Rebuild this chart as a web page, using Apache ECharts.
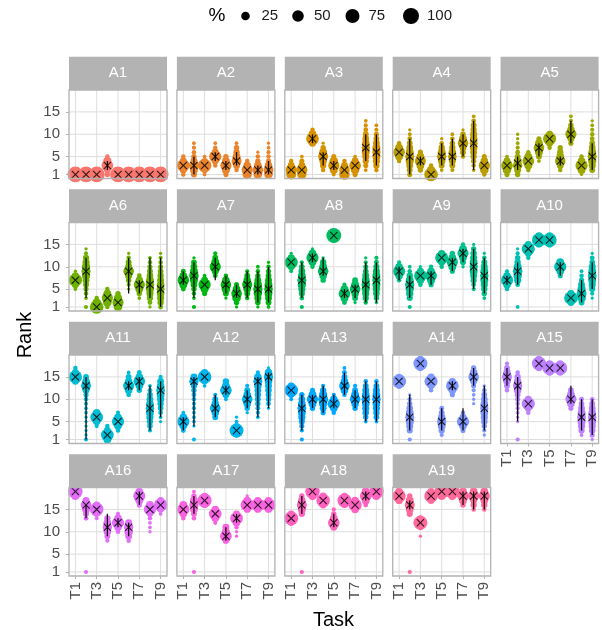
<!DOCTYPE html>
<html><head><meta charset="utf-8">
<script src="https://cdn.jsdelivr.net/npm/echarts@6/dist/echarts.min.js"></script>
<style>html,body{margin:0;padding:0;background:#fff}#c{width:602px;height:630px}</style>
</head><body><div id="c"></div>
<script>
// ---------- data ----------
const tasks = ['T1','T2','T3','T4','T5','T6','T7','T8','T9'];
const agents = ['A1','A2','A3','A4','A5','A6','A7','A8','A9','A10','A11','A12','A13','A14','A15','A16','A17','A18','A19'];
const yTicks = [1,5,10,15];
const xTicks = [1,3,5,7,9];
const legendValues = [25,50,75,100];

// median rank (X marker) per agent per task
const median = [
  [1,1,1,3,1,1,1,1,1],
  [3,3,3,5,3,4,2,2,2],
  [2,2,9,5,3,2,3,7,6],
  [6,5,4,1,5,5,8,8,3],
  [3,3.5,4,7,9,4,10,3,5],
  [7,9,1,3,2,9,6,6,5],
  [7,8,6,10,6,4,6,5,5],
  [11,7,12,9,17,4,5,6,7],
  [9,6,8,8,12,11,13,10,8],
  [7,9,14,16,16,10,3,4,8],
  [15,13,6,2,5,13,14,8,12],
  [5,14,15,8,12,3,10,14,15],
  [12,8,10,10,9,13,10,10,10],
  [14,6,18,14,5,13,5,15,8],
  [15,13,9,18,17,17,10,6,6],
  [19,16,15,11,12,11,18,15,16],
  [15,16,17,14,9,13,16,16,16],
  [13,16,19,17,12,17,16,18,19],
  [18,16,12,18,19,19,18,18,18]
];
// black interval line (low / high), null = none
const barLow = [
  [null,null,null,2,null,null,null,null,null],
  [null,1,null,4,2,3,null,1,1],
  [null,null,8,3,2,null,null,4,3],
  [null,1,3,null,3,3,5,2,null],
  [null,2,null,5,null,3,8,null,2],
  [null,3,null,null,null,4,4,3,1],
  [6,3,null,7,4,3,3,2,2],
  [null,3,11,8,null,3,3,2,2],
  [7,3,null,6,null,9,11,5,4],
  [6,6,null,null,null,8,null,2,5],
  [null,1,null,null,null,12,12,3,6],
  [3,4,null,6,11,null,8,6,8],
  [null,3,8,7,8,11,8,5,5],
  [null,3,null,null,3,12,3,13,3],
  [13,5,null,null,null,null,9,3,2],
  [null,13,null,9,11,9,16,null,null],
  [null,14,null,null,8,12,null,null,null],
  [null,14,null,null,11,null,null,17,null],
  [null,15,null,null,null,null,16,15,15]
];
const barHigh = [
  [null,null,null,4,null,null,null,null,null],
  [null,5,null,6,4,6,null,3,4],
  [null,null,10,6,4,null,null,10,10],
  [null,9,5,null,8,9,10,13,null],
  [null,5,null,8,null,5,13,null,8],
  [null,12,null,null,null,12,7,12,12],
  [9,11,null,12,8,6,9,9,10],
  [null,11,13,12,null,5,6,11,11],
  [10,8,null,9,null,12,14,14,12],
  [8,11,null,null,null,11,null,7,11],
  [null,15,null,null,null,14,15,13,14],
  [6,15,null,11,13,null,12,15,16],
  [null,11,11,13,11,16,12,14,14],
  [null,11,null,null,8,14,8,17,13],
  [17,15,null,null,null,null,13,10,10],
  [null,16,null,14,13,12,19,null,null],
  [null,18,null,null,11,14,null,null,null],
  [null,18,null,null,14,null,null,19,null],
  [null,17,null,null,null,null,19,19,19]
];
// rank distribution: per task "rank:percent ..." separated by |
const dist = [
  '1:97 2:3|1:97 2:3|1:97 2:3|3:50 4:22 2:12 1:8 5:5|1:97 2:3|1:97 2:3|1:97 2:3|1:97 2:3|1:97 2:3',
  '3:60 2:15 4:15 5:5 1:5|3:35 2:20 4:15 1:10 5:8 6:5 7:4 8:3|3:70 2:12 4:12 1:3 5:3|5:55 6:15 4:15 7:5 3:5 8:3|3:45 4:20 2:20 5:8 1:7|4:35 5:20 3:15 6:12 7:8 2:5 8:3|2:45 1:30 3:20 4:5|2:40 1:25 3:20 4:8 5:5 6:2|2:35 1:25 3:18 4:8 5:5 6:4 7:3 8:2',
  '2:45 1:35 3:15 4:5|2:45 1:30 3:15 4:7 5:3|9:60 10:20 8:15 11:5|5:35 6:20 4:18 3:12 7:8 2:5 8:2|3:45 4:25 2:20 5:7 1:3|2:40 1:40 3:15 4:5|3:50 2:25 4:15 1:7 5:3|7:22 6:20 8:18 5:16 9:14 4:12 10:10 3:7 11:6 12:4 2:3 13:3|6:22 5:20 7:20 4:16 8:14 3:12 9:10 10:7 2:5 11:4 12:3',
  '6:50 5:20 7:20 4:5 8:5|5:28 4:22 6:20 3:15 7:14 2:10 8:9 1:7 9:6 10:3 11:2|4:45 3:20 5:20 2:8 6:7|1:70 2:25 3:5|5:30 6:20 4:18 7:12 3:10 8:5 2:3 9:2|5:25 6:18 4:15 7:12 3:10 8:8 9:5 2:4 10:3|8:40 9:20 7:15 6:10 10:8 5:5 11:2|8:20 9:18 7:18 10:16 6:15 11:12 5:12 12:10 4:8 13:6 3:5 14:3 2:3|3:45 2:25 4:18 5:7 1:5',
  '3:50 2:25 4:15 1:7 5:3|3:30 4:20 2:15 5:10 1:8 6:6 7:4 8:3 9:2 10:2|4:50 3:20 5:20 2:5 6:5|7:40 6:20 8:20 5:10 9:7 4:3|9:65 8:15 10:15 7:5|4:40 5:20 3:15 6:12 7:8 2:5|10:45 11:18 9:15 12:8 8:7 13:4 14:3|3:55 2:20 4:18 5:5 1:2|5:28 4:22 6:20 3:16 7:14 2:10 8:9 9:6 10:5 11:4 12:3 13:2',
  '7:65 6:15 8:15 5:3 9:2|9:28 10:22 8:22 11:16 7:15 12:12 6:10 5:7 4:5 13:4 3:3 14:2 1:4|1:70 2:25 3:5|3:45 2:25 4:20 1:5 5:5|2:45 1:25 3:22 4:8|9:40 10:15 8:15 11:10 7:8 12:5 6:4 5:2 13:2|6:45 5:20 7:18 4:8 8:6 3:3|6:24 5:22 7:20 4:16 8:14 3:12 9:10 10:7 2:6 11:5 12:3 1:2|5:20 4:18 6:18 3:16 7:15 2:12 8:12 9:9 10:7 1:6 11:5 12:4 13:2',
  '7:50 6:20 8:18 5:6 9:6|8:32 9:20 7:20 10:14 6:14 11:9 5:8 4:5 3:3 12:2 1:4|6:55 5:20 7:15 4:7 8:3|10:45 11:20 9:15 12:10 8:6 13:4|6:40 5:25 7:18 4:10 8:5 3:2|4:40 3:25 5:18 2:8 6:7 1:2|6:35 5:18 7:18 4:10 8:10 3:5 9:4|5:30 4:24 6:22 3:16 7:14 2:9 8:8 9:5 10:3 1:2|5:25 4:20 6:20 3:15 7:15 2:10 8:10 9:7 10:5 1:3 11:2',
  '11:65 10:15 12:15 9:3 13:2|7:28 6:22 8:20 5:16 9:14 4:11 10:9 3:6 11:4 1:4|12:55 13:20 11:18 10:5 14:2|9:40 10:20 8:18 11:12 7:8 12:2|17:85 16:8 18:7|4:50 3:20 5:20 2:6 6:4|5:40 6:20 4:18 3:10 7:10 2:2|6:25 5:21 7:20 4:16 8:15 3:12 9:9 10:7 2:5 11:4 12:2|7:23 6:21 8:20 5:17 9:15 4:13 10:11 3:8 11:6 12:4 2:2',
  '9:55 8:18 10:18 7:5 11:4|6:30 5:24 7:20 4:17 8:12 3:11 9:5 10:3 1:4|8:60 7:18 9:15 6:5 10:2|8:50 7:20 9:18 6:7 10:5|12:65 11:15 13:15 10:5|11:45 12:20 10:20 13:8 9:7|13:45 14:20 12:18 11:10 15:5 10:2|10:23 11:20 9:20 12:16 8:15 13:12 7:11 14:8 6:6 5:4 15:2|8:24 7:20 9:20 6:16 10:15 5:12 11:10 4:8 12:5 3:3 13:2',
  '7:55 6:18 8:18 5:5 9:4|9:32 8:24 10:20 7:16 11:12 12:8 6:6 13:4 14:2 1:3|14:65 13:15 15:15 12:5|16:75 15:12 17:13|16:75 15:12 17:13|10:55 11:20 9:18 8:7|3:70 2:15 4:15|4:35 3:25 5:22 6:15 2:10 7:7 8:5 9:3|8:26 7:20 9:20 6:16 10:16 5:11 11:9 12:6 4:4 13:2 3:2',
  '15:65 16:15 14:15 17:5|13:35 14:18 12:15 15:10 11:7 10:5 9:4 8:3 7:3 6:2 5:2 4:2 3:2 2:2 1:4|6:60 5:18 7:18 4:4|2:60 1:20 3:15 4:5|5:55 4:18 6:18 3:5 7:4|13:45 14:18 12:18 15:10 11:6 16:3|14:50 15:18 13:18 12:8 16:6|8:24 7:20 9:18 6:16 10:14 5:12 11:10 4:9 12:6 3:4 13:3|12:26 11:20 13:18 10:16 14:14 9:12 8:9 7:6 15:4 6:3 5:2',
  '5:55 4:18 6:18 3:6 7:3|14:30 15:15 13:12 12:8 11:6 10:5 9:4 8:4 7:3 6:3 5:3 4:2 1:4|15:70 14:12 16:15 13:3|8:40 9:18 7:18 10:10 6:10 11:4|12:50 13:20 11:15 14:12 10:3|3:75 2:8 4:12 5:3 6:2|10:40 11:18 9:18 12:10 8:8 13:4 7:2|14:28 15:18 13:18 12:14 11:12 10:10 9:8 8:6 16:4 7:4 6:3|15:30 16:18 14:18 13:15 12:13 11:10 10:8 9:6 17:2 8:2',
  '12:70 11:12 13:15 10:3|8:26 7:20 9:18 6:16 10:13 5:11 11:8 4:7 3:4 1:4|10:45 9:20 11:20 8:8 12:7|10:35 9:24 11:22 8:15 12:12 7:7 13:4|9:55 8:18 10:18 7:5 11:4|13:40 14:18 12:18 15:10 16:6 11:5 17:3|10:40 11:20 9:18 12:10 8:8 13:4|10:24 9:19 11:19 8:16 12:15 7:13 13:10 6:8 14:5 5:3|10:24 9:19 11:19 8:16 12:15 7:12 13:10 6:9 14:5 5:3',
  '14:75 13:12 15:13|6:28 5:22 7:20 4:16 8:13 3:11 9:8 10:5 11:2 1:4|18:75 17:12 19:13|14:65 13:15 15:15 12:5|5:30 4:20 6:18 3:12 7:10 8:6 2:4|13:60 14:15 12:18 11:7|5:55 4:18 6:15 3:7 7:5|15:40 16:18 14:15 17:8 13:7 12:4 11:3 10:2 9:2|8:22 7:19 9:18 6:16 10:14 5:13 11:10 4:8 12:5 3:4 13:2 2:2',
  '15:35 16:18 14:18 17:10 13:10 12:5 18:4|13:30 14:18 12:18 15:12 11:10 10:7 16:5 9:5 8:4 7:3 6:2 5:2 1:4|9:65 8:15 10:15 7:5|18:75 19:12 17:13|17:75 18:12 16:13|17:75 18:12 16:13|10:45 11:20 9:18 12:10 8:7|6:26 5:22 7:20 4:17 8:14 3:12 9:9 10:6 2:3|6:24 5:20 7:18 4:16 8:14 3:13 9:10 2:7 10:5 1:2',
  '19:80 18:20|16:40 17:15 15:20 14:10 13:6 1:4|15:70 14:12 16:15 13:3|11:30 12:20 10:18 13:12 9:10 8:4|12:55 11:18 13:18 10:5 14:4|11:30 10:25 12:15 9:15 8:5|18:55 19:18 17:20 16:7|15:55 16:20 14:12 13:5 12:3 11:3 10:2|16:70 15:12 17:15 14:3',
  '15:55 14:18 16:20 13:5|16:30 17:20 15:18 14:10 18:8 13:5 19:3 1:4|17:75 16:12 18:13|14:60 13:18 15:18 12:4|9:50 10:20 11:15 8:12|13:60 12:18 14:15 11:5 10:2 9:2|16:65 17:18 15:15 18:2|16:70 15:15 17:15|16:70 15:15 17:15',
  '13:75 12:12 14:13|16:35 15:20 17:18 14:12 18:8 1:4|19:80 18:20|17:70 16:15 18:15|12:50 11:15 13:20 14:8 15:4|17:75 16:12 18:13|16:65 15:18 17:17|18:50 19:20 17:20 16:6|19:80 18:20',
  '18:65 19:18 17:17|16:35 17:20 15:18 14:12 18:8 1:4|12:75 11:10 13:12 9:2|18:70 19:15 17:15|19:80 18:20|19:80 18:20|18:50 19:20 17:20 16:8|18:45 19:20 17:15 16:12 15:5|18:45 19:20 17:18 16:12 15:5'
];

// ---------- helpers (styling) ----------
function hcl(h, c, l) {
  const hr = h * Math.PI / 180;
  const U = c * Math.cos(hr), V = c * Math.sin(hr);
  const Xn = 95.047, Yn = 100, Zn = 108.883;
  const den = Xn + 15 * Yn + 3 * Zn;
  const un = 4 * Xn / den, vn = 9 * Yn / den;
  const Y = Yn * Math.pow((l + 16) / 116, 3);
  const up = U / (13 * l) + un, vp = V / (13 * l) + vn;
  const X = Y * 9 * up / (4 * vp), Z = Y * (12 - 3 * up - 20 * vp) / (4 * vp);
  const x = X / 100, y = Y / 100, z = Z / 100;
  const r = 3.2404542 * x - 1.5371385 * y - 0.4985314 * z;
  const g = -0.9692660 * x + 1.8760108 * y + 0.0415560 * z;
  const b = 0.0556434 * x - 0.2040259 * y + 1.0572252 * z;
  const gam = v => { v = v <= 0.0031308 ? 12.92 * v : 1.055 * Math.pow(v, 1 / 2.4) - 0.055; return Math.round(Math.min(1, Math.max(0, v)) * 255); };
  return 'rgb(' + gam(r) + ',' + gam(g) + ',' + gam(b) + ')';
}
function sizeOf(p) { return 2.67 + 13.33 * (Math.sqrt(Math.max(p, 1)) - 1) / 9; }

const FONT = "'Liberation Sans', Arial, Helvetica, sans-serif";
const PW = 98, PH = 88.5, X0 = 69, Y0 = 90, DX = 107.9, DY = 132.5, SH = 33.3;
const XSYM = 'path://M1,0L5,4L9,0L10,1L6,5L10,9L9,10L5,6L1,10L0,9L4,5L0,1Z';

const grids = [], xAxes = [], yAxes = [], series = [], graphics = [];
agents.forEach((name, i) => {
  const row = Math.floor(i / 5), col = i % 5;
  const left = X0 + col * DX, top = Y0 + row * DY;
  const color = hcl(15 + 360 * i / 19, 100, 65);
  grids.push({ left: left, top: top, width: PW, height: PH, show: true, backgroundColor: '#fff', borderWidth: 0 });
  const showX = row === 3 || i === 14;
  const showY = col === 0;
  xAxes.push({
    type: 'value', gridIndex: i, min: 0.4, max: 9.6,
    axisLine: { show: false }, splitLine: { show: false },
    axisTick: { show: showX, customValues: xTicks, length: 3, lineStyle: { color: '#B3B3B3', width: 1 } },
    axisLabel: { show: showX, customValues: xTicks, formatter: v => tasks[Math.round(v) - 1], rotate: 90, margin: 6,
      fontSize: 15, color: '#4D4D4D', fontFamily: FONT }
  });
  yAxes.push({
    type: 'value', gridIndex: i, min: 0.1, max: 19.9,
    axisLine: { show: false }, splitLine: { show: false },
    axisTick: { show: showY, customValues: yTicks, length: 3, lineStyle: { color: '#B3B3B3', width: 1 } },
    axisLabel: { show: showY, customValues: yTicks, margin: 9, fontSize: 15, color: '#4D4D4D', fontFamily: FONT }
  });
  // grid lines
  const gl = yTicks.map(v => [5, v, 0]).concat(xTicks.map(v => [v, 10, 1]));
  series.push({
    type: 'custom', xAxisIndex: i, yAxisIndex: i, silent: true, z: 1, data: gl,
    renderItem: (params, api) => {
      const cs = params.coordSys;
      const p = api.coord([api.value(0), api.value(1)]);
      if (api.value(2) === 0) {
        return { type: 'line', shape: { x1: cs.x, y1: p[1], x2: cs.x + cs.width, y2: p[1] }, style: { stroke: '#DEDEDE', lineWidth: 1 } };
      }
      return { type: 'line', shape: { x1: p[0], y1: cs.y, x2: p[0], y2: cs.y + cs.height }, style: { stroke: '#DEDEDE', lineWidth: 1 } };
    }
  });
  // distribution dots
  const pts = [];
  dist[i].split('|').forEach((cell, t) => {
    cell.trim().split(/\s+/).forEach(tok => {
      const [r, p] = tok.split(':').map(Number);
      pts.push([t + 1, r, p]);
    });
  });
  pts.sort((a, b) => b[2] - a[2]);
  series.push({
    type: 'scatter', xAxisIndex: i, yAxisIndex: i, silent: true, z: 2, clip: true,
    data: pts, symbol: 'circle', symbolSize: v => sizeOf(v[2]),
    itemStyle: { color: color, opacity: 1 }
  });
  // interval bars
  const bars = [];
  tasks.forEach((t, k) => { if (barLow[i][k] != null) bars.push([k + 1, barLow[i][k], barHigh[i][k]]); });
  series.push({
    type: 'custom', xAxisIndex: i, yAxisIndex: i, silent: true, z: 3, data: bars,
    encode: { x: 0, y: [1, 2] },
    renderItem: (params, api) => {
      const a = api.coord([api.value(0), api.value(1)]);
      const b = api.coord([api.value(0), api.value(2)]);
      return { type: 'line', shape: { x1: a[0], y1: a[1], x2: b[0], y2: b[1] }, style: { stroke: '#000', lineWidth: 1.2 } };
    }
  });
  // median crosses
  series.push({
    type: 'scatter', xAxisIndex: i, yAxisIndex: i, silent: true, z: 4, clip: false,
    data: median[i].map((m, k) => [k + 1, m]), symbol: XSYM, symbolSize: 8,
    itemStyle: { color: '#000' }
  });
  // strip + border
  graphics.push({ type: 'rect', left: left, top: top - SH, shape: { width: PW, height: SH }, style: { fill: '#B3B3B3' }, z: 10 });
  graphics.push({ type: 'text', x: left + PW / 2, y: top - SH / 2, z: 11,
    style: { text: name, fill: '#fff', font: '15px ' + FONT, textAlign: 'center', textVerticalAlign: 'middle' } });
  graphics.push({ type: 'rect', shape: { x: left, y: top, width: PW, height: PH }, style: { fill: null, stroke: '#B3B3B3', lineWidth: 1.3 }, z: 100 });
});

// axis titles
graphics.push({ type: 'text', x: 25, y: 335, rotation: Math.PI / 2, z: 20,
  style: { text: 'Rank', fill: '#000', font: '20px ' + FONT, textAlign: 'center', textVerticalAlign: 'middle' } });
graphics.push({ type: 'text', x: 333.5, y: 620, z: 20,
  style: { text: 'Task', fill: '#000', font: '20px ' + FONT, textAlign: 'center', textVerticalAlign: 'middle' } });
// size legend
graphics.push({ type: 'text', x: 217, y: 16, z: 20,
  style: { text: '%', fill: '#000', font: '19px ' + FONT, textAlign: 'center', textVerticalAlign: 'middle' } });
const legDotX = [245.5, 298, 352.5, 411];
legendValues.forEach((v, k) => {
  graphics.push({ type: 'circle', shape: { cx: legDotX[k], cy: 16, r: sizeOf(v) / 2 }, style: { fill: '#000' }, z: 20 });
  graphics.push({ type: 'text', x: legDotX[k] + 16, y: 16, z: 20,
    style: { text: String(v), fill: '#1A1A1A', font: '15px ' + FONT, textAlign: 'left', textVerticalAlign: 'middle' } });
});

const chart = echarts.init(document.getElementById('c'), null, { renderer: 'canvas' });
chart.setOption({
  animation: false,
  backgroundColor: '#fff',
  grid: grids, xAxis: xAxes, yAxis: yAxes, series: series, graphic: graphics
});
</script>
</body></html>
